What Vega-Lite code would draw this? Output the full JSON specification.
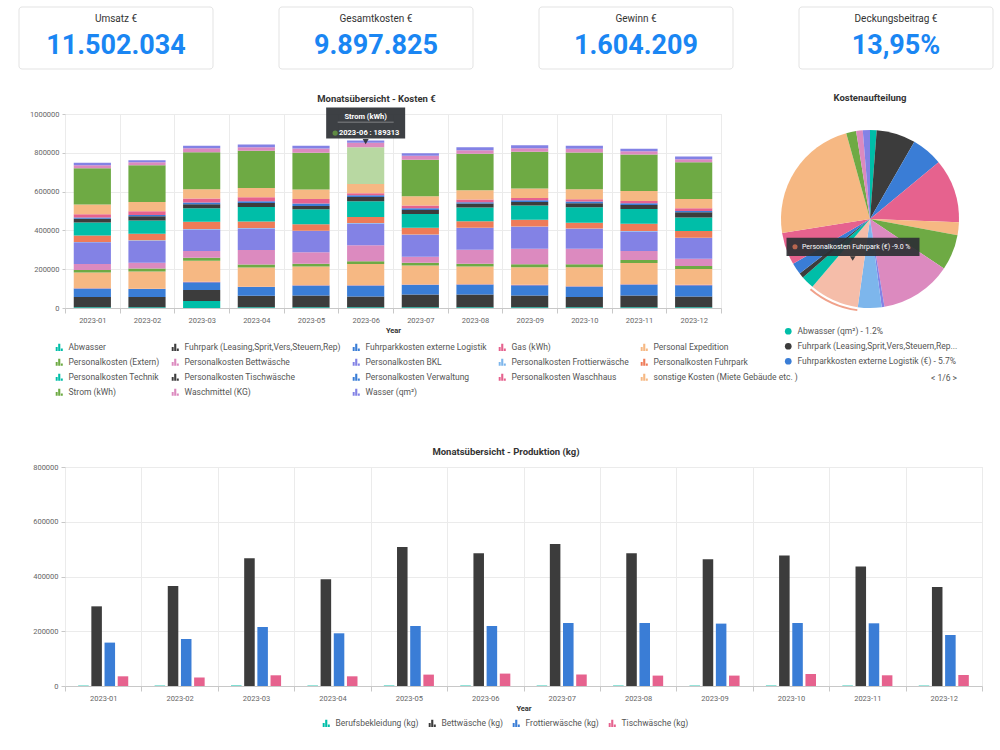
{
"$schema": "https://vega.github.io/schema/vega-lite/v6.json",
"background": "white",
"padding": {"left": 18, "top": 6, "right": 0, "bottom": 0},
"config": {
  "font": "Roboto",
  "view": {"stroke": "#e6e6e6"},
  "title": {"fontSize": 9.5, "fontWeight": "bold", "color": "#333333", "font": "Roboto"},
  "axis": {"labelFontSize": 7.5, "labelColor": "#666666", "titleFontSize": 7.5, "titleFontWeight": "bold", "titleColor": "#333333", "gridColor": "#ebebeb", "domainColor": "#c8c8c8", "tickColor": "#c8c8c8", "labelFont": "Roboto", "titleFont": "Roboto"},
  "legend": {"labelFontSize": 8.5, "labelColor": "#555555", "labelFont": "Roboto", "padding": 0}
},
"resolve": {"scale": {"color": "independent"}, "legend": {"color": "independent"}},
"columns": 1, "align": "none", "spacing": 22,
"concat": [
  {"width": 928, "height": 62, "view": {"stroke": null},
   "data": {"values": [
     {"t": "Umsatz €", "w": "11.502.034"},
     {"t": "Gesamtkosten €", "w": "9.897.825"},
     {"t": "Gewinn €", "w": "1.604.209"},
     {"t": "Deckungsbeitrag €", "w": "13,95%"}
   ]},
   "encoding": {"x": {"field": "t", "type": "nominal", "sort": null, "axis": null,
                      "scale": {"range": [-46, 928], "paddingInner": 0.25385, "paddingOuter": 0}}},
   "layer": [
     {"mark": {"type": "rect", "fill": "white", "stroke": "#e3e3e3", "strokeWidth": 1, "cornerRadius": 3}},
     {"mark": {"type": "text", "dy": -18.7, "fontSize": 10, "color": "#333333"}, "encoding": {"text": {"field": "t", "type": "nominal"}}},
     {"mark": {"type": "text", "dy": 8, "fontSize": 27, "fontWeight": "bold", "color": "#1a86f3"}, "encoding": {"text": {"field": "w", "type": "nominal"}}}
   ]},
 {"concat": [
  {"hconcat": [
   {"width": 656, "height": 194,
    "title": {"text": "Monatsübersicht - Kosten €", "offset": 4.5, "dx": -16.5, "anchor": "middle", "frame": "group"},
    "data": {"values": [
{"m":"2023-01","k":"Abwasser","v":4000},{"m":"2023-01","k":"Fuhrpark (Leasing,Sprit,Vers,Steuern,Rep)","v":52400},{"m":"2023-01","k":"Fuhrparkkosten externe Logistik","v":44100},{"m":"2023-01","k":"Gas (kWh)","v":1500},{"m":"2023-01","k":"Personal Expedition","v":80600},{"m":"2023-01","k":"Personalkosten (Extern)","v":13800},{"m":"2023-01","k":"Personalkosten Bettwäsche","v":30800},{"m":"2023-01","k":"Personalkosten BKL","v":111200},{"m":"2023-01","k":"Personalkosten Frottierwäsche","v":2000},{"m":"2023-01","k":"Personalkosten Fuhrpark","v":33900},{"m":"2023-01","k":"Personalkosten Technik","v":66700},{"m":"2023-01","k":"Personalkosten Tischwäsche","v":18500},{"m":"2023-01","k":"Personalkosten Verwaltung","v":7100},{"m":"2023-01","k":"Personalkosten Waschhaus","v":17000},{"m":"2023-01","k":"sonstige Kosten (Miete Gebäude etc. )","v":49700},{"m":"2023-01","k":"Strom (kWh)","v":187700},{"m":"2023-01","k":"Waschmittel (KG)","v":15400},{"m":"2023-01","k":"Wasser (qm²)","v":12300},
{"m":"2023-02","k":"Abwasser","v":4000},{"m":"2023-02","k":"Fuhrpark (Leasing,Sprit,Vers,Steuern,Rep)","v":52400},{"m":"2023-02","k":"Fuhrparkkosten externe Logistik","v":41000},{"m":"2023-02","k":"Gas (kWh)","v":1500},{"m":"2023-02","k":"Personal Expedition","v":88800},{"m":"2023-02","k":"Personalkosten (Extern)","v":15400},{"m":"2023-02","k":"Personalkosten Bettwäsche","v":30700},{"m":"2023-02","k":"Personalkosten BKL","v":112900},{"m":"2023-02","k":"Personalkosten Frottierwäsche","v":2000},{"m":"2023-02","k":"Personalkosten Fuhrpark","v":33900},{"m":"2023-02","k":"Personalkosten Technik","v":68700},{"m":"2023-02","k":"Personalkosten Tischwäsche","v":22000},{"m":"2023-02","k":"Personalkosten Verwaltung","v":6700},{"m":"2023-02","k":"Personalkosten Waschhaus","v":19000},{"m":"2023-02","k":"sonstige Kosten (Miete Gebäude etc. )","v":47600},{"m":"2023-02","k":"Strom (kWh)","v":189800},{"m":"2023-02","k":"Waschmittel (KG)","v":15400},{"m":"2023-02","k":"Wasser (qm²)","v":10200},
{"m":"2023-03","k":"Abwasser","v":35900},{"m":"2023-03","k":"Fuhrpark (Leasing,Sprit,Vers,Steuern,Rep)","v":56400},{"m":"2023-03","k":"Fuhrparkkosten externe Logistik","v":41000},{"m":"2023-03","k":"Gas (kWh)","v":1500},{"m":"2023-03","k":"Personal Expedition","v":109300},{"m":"2023-03","k":"Personalkosten (Extern)","v":15400},{"m":"2023-03","k":"Personalkosten Bettwäsche","v":34300},{"m":"2023-03","k":"Personalkosten BKL","v":111300},{"m":"2023-03","k":"Personalkosten Frottierwäsche","v":2000},{"m":"2023-03","k":"Personalkosten Fuhrpark","v":37000},{"m":"2023-03","k":"Personalkosten Technik","v":70200},{"m":"2023-03","k":"Personalkosten Tischwäsche","v":20600},{"m":"2023-03","k":"Personalkosten Verwaltung","v":8700},{"m":"2023-03","k":"Personalkosten Waschhaus","v":20500},{"m":"2023-03","k":"sonstige Kosten (Miete Gebäude etc. )","v":47700},{"m":"2023-03","k":"Strom (kWh)","v":191200},{"m":"2023-03","k":"Waschmittel (KG)","v":20600},{"m":"2023-03","k":"Wasser (qm²)","v":12300},
{"m":"2023-04","k":"Abwasser","v":4000},{"m":"2023-04","k":"Fuhrpark (Leasing,Sprit,Vers,Steuern,Rep)","v":59100},{"m":"2023-04","k":"Fuhrparkkosten externe Logistik","v":44600},{"m":"2023-04","k":"Gas (kWh)","v":1500},{"m":"2023-04","k":"Personal Expedition","v":99000},{"m":"2023-04","k":"Personalkosten (Extern)","v":15400},{"m":"2023-04","k":"Personalkosten Bettwäsche","v":75400},{"m":"2023-04","k":"Personalkosten BKL","v":111200},{"m":"2023-04","k":"Personalkosten Frottierwäsche","v":2000},{"m":"2023-04","k":"Personalkosten Fuhrpark","v":33900},{"m":"2023-04","k":"Personalkosten Technik","v":74900},{"m":"2023-04","k":"Personalkosten Tischwäsche","v":20500},{"m":"2023-04","k":"Personalkosten Verwaltung","v":8700},{"m":"2023-04","k":"Personalkosten Waschhaus","v":20500},{"m":"2023-04","k":"sonstige Kosten (Miete Gebäude etc. )","v":47700},{"m":"2023-04","k":"Strom (kWh)","v":191800},{"m":"2023-04","k":"Waschmittel (KG)","v":18500},{"m":"2023-04","k":"Wasser (qm²)","v":13800},
{"m":"2023-05","k":"Abwasser","v":4000},{"m":"2023-05","k":"Fuhrpark (Leasing,Sprit,Vers,Steuern,Rep)","v":60600},{"m":"2023-05","k":"Fuhrparkkosten externe Logistik","v":51300},{"m":"2023-05","k":"Gas (kWh)","v":1500},{"m":"2023-05","k":"Personal Expedition","v":95900},{"m":"2023-05","k":"Personalkosten (Extern)","v":15400},{"m":"2023-05","k":"Personalkosten Bettwäsche","v":58500},{"m":"2023-05","k":"Personalkosten BKL","v":109200},{"m":"2023-05","k":"Personalkosten Frottierwäsche","v":2000},{"m":"2023-05","k":"Personalkosten Fuhrpark","v":33900},{"m":"2023-05","k":"Personalkosten Technik","v":76900},{"m":"2023-05","k":"Personalkosten Tischwäsche","v":16900},{"m":"2023-05","k":"Personalkosten Verwaltung","v":12300},{"m":"2023-05","k":"Personalkosten Waschhaus","v":23600},{"m":"2023-05","k":"sonstige Kosten (Miete Gebäude etc. )","v":48200},{"m":"2023-05","k":"Strom (kWh)","v":189800},{"m":"2023-05","k":"Waschmittel (KG)","v":22000},{"m":"2023-05","k":"Wasser (qm²)","v":13900},
{"m":"2023-06","k":"Abwasser","v":4000},{"m":"2023-06","k":"Fuhrpark (Leasing,Sprit,Vers,Steuern,Rep)","v":55500},{"m":"2023-06","k":"Fuhrparkkosten externe Logistik","v":56400},{"m":"2023-06","k":"Gas (kWh)","v":1500},{"m":"2023-06","k":"Personal Expedition","v":109800},{"m":"2023-06","k":"Personalkosten (Extern)","v":13800},{"m":"2023-06","k":"Personalkosten Bettwäsche","v":82100},{"m":"2023-06","k":"Personalkosten BKL","v":112800},{"m":"2023-06","k":"Personalkosten Frottierwäsche","v":2000},{"m":"2023-06","k":"Personalkosten Fuhrpark","v":31800},{"m":"2023-06","k":"Personalkosten Technik","v":80500},{"m":"2023-06","k":"Personalkosten Tischwäsche","v":22100},{"m":"2023-06","k":"Personalkosten Verwaltung","v":8700},{"m":"2023-06","k":"Personalkosten Waschhaus","v":10300},{"m":"2023-06","k":"sonstige Kosten (Miete Gebäude etc. )","v":47700},{"m":"2023-06","k":"Strom (kWh)","v":189313},{"m":"2023-06","k":"Waschmittel (KG)","v":22900},{"m":"2023-06","k":"Wasser (qm²)","v":11800},
{"m":"2023-07","k":"Abwasser","v":4000},{"m":"2023-07","k":"Fuhrpark (Leasing,Sprit,Vers,Steuern,Rep)","v":65700},{"m":"2023-07","k":"Fuhrparkkosten externe Logistik","v":49800},{"m":"2023-07","k":"Gas (kWh)","v":1500},{"m":"2023-07","k":"Personal Expedition","v":97500},{"m":"2023-07","k":"Personalkosten (Extern)","v":15300},{"m":"2023-07","k":"Personalkosten Bettwäsche","v":30800},{"m":"2023-07","k":"Personalkosten BKL","v":112800},{"m":"2023-07","k":"Personalkosten Frottierwäsche","v":2000},{"m":"2023-07","k":"Personalkosten Fuhrpark","v":33900},{"m":"2023-07","k":"Personalkosten Technik","v":71800},{"m":"2023-07","k":"Personalkosten Tischwäsche","v":20500},{"m":"2023-07","k":"Personalkosten Verwaltung","v":8700},{"m":"2023-07","k":"Personalkosten Waschhaus","v":13900},{"m":"2023-07","k":"sonstige Kosten (Miete Gebäude etc. )","v":47700},{"m":"2023-07","k":"Strom (kWh)","v":188200},{"m":"2023-07","k":"Waschmittel (KG)","v":20500},{"m":"2023-07","k":"Wasser (qm²)","v":13300},
{"m":"2023-08","k":"Abwasser","v":4000},{"m":"2023-08","k":"Fuhrpark (Leasing,Sprit,Vers,Steuern,Rep)","v":65700},{"m":"2023-08","k":"Fuhrparkkosten externe Logistik","v":51300},{"m":"2023-08","k":"Gas (kWh)","v":1500},{"m":"2023-08","k":"Personal Expedition","v":90800},{"m":"2023-08","k":"Personalkosten (Extern)","v":15400},{"m":"2023-08","k":"Personalkosten Bettwäsche","v":71800},{"m":"2023-08","k":"Personalkosten BKL","v":111300},{"m":"2023-08","k":"Personalkosten Frottierwäsche","v":2000},{"m":"2023-08","k":"Personalkosten Fuhrpark","v":33900},{"m":"2023-08","k":"Personalkosten Technik","v":70200},{"m":"2023-08","k":"Personalkosten Tischwäsche","v":20500},{"m":"2023-08","k":"Personalkosten Verwaltung","v":6700},{"m":"2023-08","k":"Personalkosten Waschhaus","v":13900},{"m":"2023-08","k":"sonstige Kosten (Miete Gebäude etc. )","v":47600},{"m":"2023-08","k":"Strom (kWh)","v":188200},{"m":"2023-08","k":"Waschmittel (KG)","v":18500},{"m":"2023-08","k":"Wasser (qm²)","v":15400},
{"m":"2023-09","k":"Abwasser","v":4000},{"m":"2023-09","k":"Fuhrpark (Leasing,Sprit,Vers,Steuern,Rep)","v":60600},{"m":"2023-09","k":"Fuhrparkkosten externe Logistik","v":53300},{"m":"2023-09","k":"Gas (kWh)","v":1500},{"m":"2023-09","k":"Personal Expedition","v":90800},{"m":"2023-09","k":"Personalkosten (Extern)","v":15400},{"m":"2023-09","k":"Personalkosten Bettwäsche","v":80000},{"m":"2023-09","k":"Personalkosten BKL","v":112800},{"m":"2023-09","k":"Personalkosten Frottierwäsche","v":2000},{"m":"2023-09","k":"Personalkosten Fuhrpark","v":33900},{"m":"2023-09","k":"Personalkosten Technik","v":73900},{"m":"2023-09","k":"Personalkosten Tischwäsche","v":18400},{"m":"2023-09","k":"Personalkosten Verwaltung","v":8800},{"m":"2023-09","k":"Personalkosten Waschhaus","v":11800},{"m":"2023-09","k":"sonstige Kosten (Miete Gebäude etc. )","v":48200},{"m":"2023-09","k":"Strom (kWh)","v":189700},{"m":"2023-09","k":"Waschmittel (KG)","v":18500},{"m":"2023-09","k":"Wasser (qm²)","v":15400},
{"m":"2023-10","k":"Abwasser","v":4000},{"m":"2023-10","k":"Fuhrpark (Leasing,Sprit,Vers,Steuern,Rep)","v":52400},{"m":"2023-10","k":"Fuhrparkkosten externe Logistik","v":54400},{"m":"2023-10","k":"Gas (kWh)","v":1500},{"m":"2023-10","k":"Personal Expedition","v":97900},{"m":"2023-10","k":"Personalkosten (Extern)","v":15400},{"m":"2023-10","k":"Personalkosten Bettwäsche","v":80000},{"m":"2023-10","k":"Personalkosten BKL","v":102600},{"m":"2023-10","k":"Personalkosten Frottierwäsche","v":2000},{"m":"2023-10","k":"Personalkosten Fuhrpark","v":28800},{"m":"2023-10","k":"Personalkosten Technik","v":80500},{"m":"2023-10","k":"Personalkosten Tischwäsche","v":20500},{"m":"2023-10","k":"Personalkosten Verwaltung","v":8700},{"m":"2023-10","k":"Personalkosten Waschhaus","v":11800},{"m":"2023-10","k":"sonstige Kosten (Miete Gebäude etc. )","v":51300},{"m":"2023-10","k":"Strom (kWh)","v":189700},{"m":"2023-10","k":"Waschmittel (KG)","v":19000},{"m":"2023-10","k":"Wasser (qm²)","v":15400},
{"m":"2023-11","k":"Abwasser","v":4000},{"m":"2023-11","k":"Fuhrpark (Leasing,Sprit,Vers,Steuern,Rep)","v":60600},{"m":"2023-11","k":"Fuhrparkkosten externe Logistik","v":56400},{"m":"2023-11","k":"Gas (kWh)","v":1500},{"m":"2023-11","k":"Personal Expedition","v":109800},{"m":"2023-11","k":"Personalkosten (Extern)","v":15400},{"m":"2023-11","k":"Personalkosten Bettwäsche","v":46100},{"m":"2023-11","k":"Personalkosten BKL","v":101100},{"m":"2023-11","k":"Personalkosten Frottierwäsche","v":2000},{"m":"2023-11","k":"Personalkosten Fuhrpark","v":36900},{"m":"2023-11","k":"Personalkosten Technik","v":76900},{"m":"2023-11","k":"Personalkosten Tischwäsche","v":20600},{"m":"2023-11","k":"Personalkosten Verwaltung","v":8700},{"m":"2023-11","k":"Personalkosten Waschhaus","v":11800},{"m":"2023-11","k":"sonstige Kosten (Miete Gebäude etc. )","v":51300},{"m":"2023-11","k":"Strom (kWh)","v":188200},{"m":"2023-11","k":"Waschmittel (KG)","v":16900},{"m":"2023-11","k":"Wasser (qm²)","v":12300},
{"m":"2023-12","k":"Abwasser","v":4000},{"m":"2023-12","k":"Fuhrpark (Leasing,Sprit,Vers,Steuern,Rep)","v":55500},{"m":"2023-12","k":"Fuhrparkkosten externe Logistik","v":58400},{"m":"2023-12","k":"Gas (kWh)","v":1500},{"m":"2023-12","k":"Personal Expedition","v":82100},{"m":"2023-12","k":"Personalkosten (Extern)","v":15400},{"m":"2023-12","k":"Personalkosten Bettwäsche","v":37400},{"m":"2023-12","k":"Personalkosten BKL","v":106200},{"m":"2023-12","k":"Personalkosten Frottierwäsche","v":2000},{"m":"2023-12","k":"Personalkosten Fuhrpark","v":33900},{"m":"2023-12","k":"Personalkosten Technik","v":70200},{"m":"2023-12","k":"Personalkosten Tischwäsche","v":27200},{"m":"2023-12","k":"Personalkosten Verwaltung","v":6700},{"m":"2023-12","k":"Personalkosten Waschhaus","v":13800},{"m":"2023-12","k":"sonstige Kosten (Miete Gebäude etc. )","v":47700},{"m":"2023-12","k":"Strom (kWh)","v":189800},{"m":"2023-12","k":"Waschmittel (KG)","v":15300},{"m":"2023-12","k":"Wasser (qm²)","v":13900}
    ]},
    "encoding": {
      "x": {"field": "m", "type": "nominal", "title": "Year", "scale": {"paddingInner": 0, "paddingOuter": 0},
            "axis": {"labelAngle": 0, "tickBand": "extent", "grid": true, "labelPadding": 3, "titlePadding": 3, "domainColor": "#c8c8c8"}}
    },
    "layer": [
     {"transform": [{"stack": "v", "groupby": ["m"], "as": ["y0", "y1"]}],
      "mark": {"type": "bar", "width": {"band": 0.68}},
      "encoding": {
        "y": {"field": "y0", "type": "quantitative", "title": null, "scale": {"domain": [0, 1000000], "nice": false},
              "axis": {"values": [0, 200000, 400000, 600000, 800000, 1000000], "format": "d", "minExtent": 46, "labelPadding": 3, "tickSize": 3, "domain": false, "labelOverlap": false}},
        "y2": {"field": "y1"},
        "color": {"field": "k", "type": "nominal",
          "condition": {"test": "datum.m == '2023-06' && datum.k == 'Strom (kWh)'", "value": "#b8d8a2"},
          "scale": {"domain": ["Abwasser", "Fuhrpark (Leasing,Sprit,Vers,Steuern,Rep)", "Fuhrparkkosten externe Logistik", "Gas (kWh)", "Personal Expedition", "Personalkosten (Extern)", "Personalkosten Bettwäsche", "Personalkosten BKL", "Personalkosten Frottierwäsche", "Personalkosten Fuhrpark", "Personalkosten Technik", "Personalkosten Tischwäsche", "Personalkosten Verwaltung", "Personalkosten Waschhaus", "sonstige Kosten (Miete Gebäude etc. )", "Strom (kWh)", "Waschmittel (KG)", "Wasser (qm²)"],
                    "range": ["#00bea8", "#3c3c3c", "#3a7dd6", "#e6628e", "#f6b883", "#6eaa44", "#dc8abf", "#8382e5", "#7db6ec", "#ee7b58", "#00bea8", "#3c3c3c", "#3a7dd6", "#e6628e", "#f6b883", "#6eaa44", "#dc8abf", "#8382e5"]},
          "legend": {"title": null, "orient": "none", "legendX": -10, "legendY": 229, "direction": "horizontal", "columns": 5,
                     "symbolType": "M-1,1V-0.1H-0.45V1Z M-0.3,1V-1H0.3V1Z M0.45,1V0.35H1V1Z", "symbolSize": 50, "symbolStrokeWidth": 0,
                     "labelOffset": 5, "columnPadding": 11, "rowPadding": 6}}
      }},
     {"transform": [{"filter": "datum.m == '2023-06'"}, {"aggregate": [{"op": "sum", "field": "v", "as": "t"}], "groupby": ["m"]}],
      "encoding": {"y": {"field": "t", "type": "quantitative", "title": null, "scale": {"domain": [0, 1000000], "nice": false},
              "axis": {"values": [0, 200000, 400000, 600000, 800000, 1000000], "format": "d", "minExtent": 46, "labelPadding": 3, "tickSize": 3, "domain": false, "labelOverlap": false}}},
      "layer": [
        {"mark": {"type": "point", "shape": "M-1,-0.392H1V0.392H-1Z", "size": 6241, "filled": true, "color": "#2d3034", "opacity": 0.92, "strokeWidth": 0, "yOffset": -17.5}},
        {"mark": {"type": "point", "shape": "triangle-down", "size": 36, "filled": true, "color": "#2d3034", "opacity": 0.92, "strokeWidth": 0, "yOffset": 1}},
        {"mark": {"type": "point", "shape": "M-1,-0.015H1V0.015H-1Z", "size": 3136, "filled": true, "color": "#bbbbbb", "strokeWidth": 0, "yOffset": -18.5}},
        {"mark": {"type": "text", "color": "white", "fontSize": 7.5, "fontWeight": "bold", "dy": -23.5}, "encoding": {"text": {"value": "Strom (kWh)"}}},
        {"mark": {"type": "point", "shape": "circle", "size": 28, "filled": true, "color": "#6eaa44", "strokeWidth": 0, "xOffset": -30.5, "yOffset": -7.5}},
        {"mark": {"type": "text", "color": "white", "fontSize": 7.5, "fontWeight": "bold", "dx": 3.5, "dy": -7.5}, "encoding": {"text": {"value": "2023-06 : 189313"}}}
      ]}
    ]},
   {"width": 178, "height": 210, "view": {"stroke": null},
    "title": {"text": "Kostenaufteilung", "offset": 12, "anchor": "middle", "frame": "group"},
    "data": {"values": [
      {"k": "Abwasser (qm²) - 1.2%", "p": 1.2},
      {"k": "Fuhrpark (Leasing,Sprit,Vers,Steuern,Rep) (€) - 7.1%", "p": 7.1},
      {"k": "Fuhrparkkosten externe Logistik (€) - 5.7%", "p": 5.7},
      {"k": "Gas (kWh) - 11.6%", "p": 11.6},
      {"k": "Personal Expedition (€) - 2.3%", "p": 2.3},
      {"k": "Personalkosten (Extern) (€) - 6.5%", "p": 6.5},
      {"k": "Personalkosten Bettwäsche (€) - 13.0%", "p": 13.0},
      {"k": "Personalkosten BKL (€) - 0.5%", "p": 0.5},
      {"k": "Personalkosten Frottierwäsche (€) - 4.3%", "p": 4.3},
      {"k": "Personalkosten Fuhrpark (€) - 9.0%", "p": 9.0},
      {"k": "Personalkosten Technik (€) - 2.4%", "p": 2.4},
      {"k": "Personalkosten Tischwäsche (€) - 0.9%", "p": 0.9},
      {"k": "Personalkosten Verwaltung (€) - 2.1%", "p": 2.1},
      {"k": "Personalkosten Waschhaus (€) - 5.9%", "p": 5.9},
      {"k": "sonstige Kosten (Miete Gebäude etc. ) (€) - 23.2%", "p": 23.2},
      {"k": "Strom (kWh) - 1.8%", "p": 1.8},
      {"k": "Waschmittel (KG) - 1.2%", "p": 1.2},
      {"k": "Wasser (qm²) - 1.3%", "p": 1.3}
    ]},
    "transform": [{"stack": "p", "groupby": [], "as": ["t0", "t1"]}],
    "layer": [
     {"mark": {"type": "arc"},
      "encoding": {
        "theta": {"field": "t0", "type": "quantitative", "scale": {"domain": [0, 100]}},
        "theta2": {"field": "t1"},
        "color": {"field": "k", "type": "nominal",
          "condition": {"test": "datum.k == 'Personalkosten Fuhrpark (€) - 9.0%'", "value": "#f5bda9"},
          "scale": {"domain": ["Abwasser (qm²) - 1.2%", "Fuhrpark (Leasing,Sprit,Vers,Steuern,Rep) (€) - 7.1%", "Fuhrparkkosten externe Logistik (€) - 5.7%", "Gas (kWh) - 11.6%", "Personal Expedition (€) - 2.3%", "Personalkosten (Extern) (€) - 6.5%", "Personalkosten Bettwäsche (€) - 13.0%", "Personalkosten BKL (€) - 0.5%", "Personalkosten Frottierwäsche (€) - 4.3%", "Personalkosten Fuhrpark (€) - 9.0%", "Personalkosten Technik (€) - 2.4%", "Personalkosten Tischwäsche (€) - 0.9%", "Personalkosten Verwaltung (€) - 2.1%", "Personalkosten Waschhaus (€) - 5.9%", "sonstige Kosten (Miete Gebäude etc. ) (€) - 23.2%", "Strom (kWh) - 1.8%", "Waschmittel (KG) - 1.2%", "Wasser (qm²) - 1.3%"],
                    "range": ["#00bea8", "#3c3c3c", "#3a7dd6", "#e6628e", "#f6b883", "#6eaa44", "#dc8abf", "#8382e5", "#7db6ec", "#ee7b58", "#00bea8", "#3c3c3c", "#3a7dd6", "#e6628e", "#f6b883", "#6eaa44", "#dc8abf", "#8382e5"]},
          "legend": {"values": ["Abwasser (qm²) - 1.2%", "Fuhrpark (Leasing,Sprit,Vers,Steuern,Rep) (€) - 7.1%", "Fuhrparkkosten externe Logistik (€) - 5.7%"],
                     "labelExpr": "length(datum.label) > 44 ? substring(datum.label, 0, 40) + '...' : datum.label",
                     "orient": "none", "legendX": 3, "legendY": 213, "direction": "vertical",
                     "symbolType": "circle", "symbolSize": 45, "symbolStrokeWidth": 0, "labelOffset": 5, "rowPadding": 6, "labelLimit": 300,
                     "title": "<  1/6  >", "titleOrient": "bottom", "titleAnchor": "end", "titlePadding": 8, "titleFontSize": 8.5, "titleFontWeight": "normal", "titleColor": "#555555", "titleFont": "Roboto"}}
      }},
     {"transform": [{"filter": "datum.k == 'Personalkosten Fuhrpark (€) - 9.0%'"}],
      "layer": [
        {"mark": {"type": "arc", "radius": 93, "radius2": 91, "color": "#f0a18a"},
         "encoding": {"theta": {"field": "t0", "type": "quantitative", "scale": {"domain": [0, 100]}}, "theta2": {"field": "t1"}}},
        {"mark": {"type": "point", "shape": "M-1,-0.1376H1V0.1376H-1Z", "size": 17689, "filled": true, "color": "#2d3034", "opacity": 0.92, "strokeWidth": 0, "xOffset": -17, "yOffset": 27.8}, "encoding": {}},
        {"mark": {"type": "point", "shape": "triangle-down", "size": 30, "filled": true, "color": "#2d3034", "opacity": 0.92, "strokeWidth": 0, "xOffset": -17.3, "yOffset": 39.5}, "encoding": {}},
        {"mark": {"type": "point", "shape": "circle", "size": 26, "filled": true, "color": "#ee7b58", "strokeWidth": 0, "xOffset": -75, "yOffset": 27.8}, "encoding": {}},
        {"mark": {"type": "text", "color": "white", "fontSize": 7, "align": "left", "dx": -68, "dy": 27.8}, "encoding": {"text": {"value": "Personalkosten Fuhrpark (€) -9.0 %"}}}
      ]}
    ]}
  ], "spacing": 60, "bounds": "flush", "resolve": {"scale": {"color": "independent"}, "legend": {"color": "independent"}}},
  {"width": 917, "height": 219,
   "title": {"text": "Monatsübersicht - Produktion (kg)", "offset": 6.5, "dx": -17.5, "anchor": "middle", "frame": "group"},
   "data": {"values": [
{"m":"2023-01","s":"Berufsbekleidung (kg)","v":1400},{"m":"2023-01","s":"Bettwäsche (kg)","v":291000},{"m":"2023-01","s":"Frottierwäsche (kg)","v":158500},{"m":"2023-01","s":"Tischwäsche (kg)","v":35400},
{"m":"2023-02","s":"Berufsbekleidung (kg)","v":1500},{"m":"2023-02","s":"Bettwäsche (kg)","v":365000},{"m":"2023-02","s":"Frottierwäsche (kg)","v":171700},{"m":"2023-02","s":"Tischwäsche (kg)","v":30700},
{"m":"2023-03","s":"Berufsbekleidung (kg)","v":1600},{"m":"2023-03","s":"Bettwäsche (kg)","v":466500},{"m":"2023-03","s":"Frottierwäsche (kg)","v":215500},{"m":"2023-03","s":"Tischwäsche (kg)","v":39100},
{"m":"2023-04","s":"Berufsbekleidung (kg)","v":1500},{"m":"2023-04","s":"Bettwäsche (kg)","v":389800},{"m":"2023-04","s":"Frottierwäsche (kg)","v":192500},{"m":"2023-04","s":"Tischwäsche (kg)","v":35400},
{"m":"2023-05","s":"Berufsbekleidung (kg)","v":1700},{"m":"2023-05","s":"Bettwäsche (kg)","v":507800},{"m":"2023-05","s":"Frottierwäsche (kg)","v":219200},{"m":"2023-05","s":"Tischwäsche (kg)","v":41600},
{"m":"2023-06","s":"Berufsbekleidung (kg)","v":1600},{"m":"2023-06","s":"Bettwäsche (kg)","v":484800},{"m":"2023-06","s":"Frottierwäsche (kg)","v":219200},{"m":"2023-06","s":"Tischwäsche (kg)","v":45300},
{"m":"2023-07","s":"Berufsbekleidung (kg)","v":1500},{"m":"2023-07","s":"Bettwäsche (kg)","v":518700},{"m":"2023-07","s":"Frottierwäsche (kg)","v":230100},{"m":"2023-07","s":"Tischwäsche (kg)","v":41600},
{"m":"2023-08","s":"Berufsbekleidung (kg)","v":1600},{"m":"2023-08","s":"Bettwäsche (kg)","v":484800},{"m":"2023-08","s":"Frottierwäsche (kg)","v":230100},{"m":"2023-08","s":"Tischwäsche (kg)","v":38000},
{"m":"2023-09","s":"Berufsbekleidung (kg)","v":1500},{"m":"2023-09","s":"Bettwäsche (kg)","v":462800},{"m":"2023-09","s":"Frottierwäsche (kg)","v":227900},{"m":"2023-09","s":"Tischwäsche (kg)","v":38000},
{"m":"2023-10","s":"Berufsbekleidung (kg)","v":1600},{"m":"2023-10","s":"Bettwäsche (kg)","v":476300},{"m":"2023-10","s":"Frottierwäsche (kg)","v":230100},{"m":"2023-10","s":"Tischwäsche (kg)","v":43800},
{"m":"2023-11","s":"Berufsbekleidung (kg)","v":1500},{"m":"2023-11","s":"Bettwäsche (kg)","v":436200},{"m":"2023-11","s":"Frottierwäsche (kg)","v":229000},{"m":"2023-11","s":"Tischwäsche (kg)","v":39100},
{"m":"2023-12","s":"Berufsbekleidung (kg)","v":1400},{"m":"2023-12","s":"Bettwäsche (kg)","v":361600},{"m":"2023-12","s":"Frottierwäsche (kg)","v":186300},{"m":"2023-12","s":"Tischwäsche (kg)","v":40200}
   ]},
   "mark": {"type": "bar"},
   "encoding": {
     "x": {"field": "m", "type": "nominal", "title": "Year", "scale": {"paddingInner": 0, "paddingOuter": 0},
           "axis": {"labelAngle": 0, "tickBand": "extent", "grid": true, "labelPadding": 3, "titlePadding": 3}},
     "xOffset": {"field": "s", "type": "nominal", "scale": {"paddingInner": 0.2, "paddingOuter": 1.93}},
     "y": {"field": "v", "type": "quantitative", "title": null, "scale": {"domain": [0, 800000], "nice": false},
           "axis": {"values": [0, 200000, 400000, 600000, 800000], "format": "d", "minExtent": 43, "labelPadding": 3, "tickSize": 4, "domain": false}},
     "color": {"field": "s", "type": "nominal",
       "scale": {"domain": ["Berufsbekleidung (kg)", "Bettwäsche (kg)", "Frottierwäsche (kg)", "Tischwäsche (kg)"], "range": ["#00bea8", "#3c3c3c", "#3a7dd6", "#e6628e"]},
       "legend": {"title": null, "orient": "none", "legendX": 257, "legendY": 252, "direction": "horizontal",
                  "symbolType": "M-1,1V-0.1H-0.45V1Z M-0.3,1V-1H0.3V1Z M0.45,1V0.35H1V1Z", "symbolSize": 50, "symbolStrokeWidth": 0,
                  "labelOffset": 5, "columnPadding": 9}}
   }}
 ], "columns": 1, "spacing": 48, "resolve": {"scale": {"color": "independent"}, "legend": {"color": "independent"}}}
]
}
